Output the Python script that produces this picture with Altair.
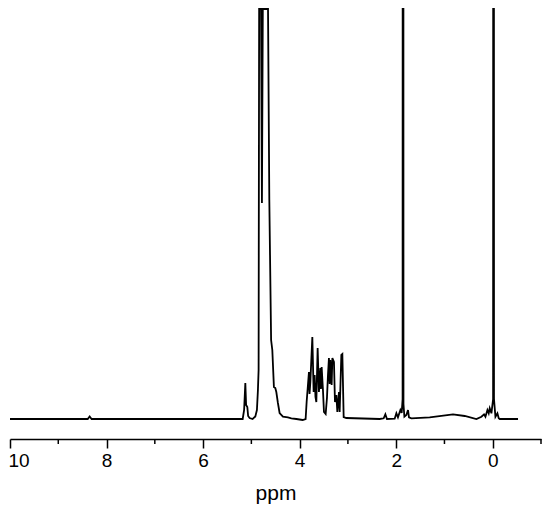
import altair as alt
import pandas as pd

# Chemical shift (ppm) and intensity (arbitrary units, baseline = 0)
ppm = [10.0, 8.39, 8.35, 8.31, 5.24, 5.18, 5.15, 5.125, 5.109, 5.084, 5.067, 5.036,
       4.974, 4.918, 4.885, 4.864, 4.850, 4.839, 4.80, 4.781, 4.763, 4.655, 4.628,
       4.591, 4.566, 4.533, 4.504, 4.483, 4.450, 4.415, 4.346, 4.243, 4.172, 4.068,
       3.938, 3.876, 3.855, 3.807, 3.795, 3.778, 3.737, 3.710, 3.689, 3.672, 3.654,
       3.627, 3.600, 3.571, 3.558, 3.544, 3.517, 3.496, 3.461, 3.434, 3.413, 3.393,
       3.378, 3.364, 3.337, 3.322, 3.289, 3.268, 3.239, 3.219, 3.185, 3.171, 3.136,
       3.115, 3.088, 3.032, 2.342, 2.259, 2.224, 2.191, 2.031, 1.996, 1.963, 1.913,
       1.886, 1.867, 1.858, 1.849, 1.830, 1.789, 1.755, 1.735, 1.685, 1.306, 0.823,
       0.580, 0.338, 0.234, 0.180, 0.151, 0.110, 0.083, 0.062, 0.027, -0.008, -0.017,
       -0.026, -0.056, -0.097, -0.124, -0.145, -0.524]
intensity = [0, 0, 2.5, 0, 0, 0, 9, 36, 14, 12, 3, 1,
             0, 2.5, 9, 29, 49, 410, 410, 216, 410, 410, 219,
             79, 69, 32, 31, 27, 16, 6, 2.3, 1.7, 0.7, 0,
             -1, 0, 17, 47, 25, 37, 82, 27, 44, 22, 17,
             71, 27, 51, 30, 52, 29, 7, 5, 21, 44, 61,
             35, 59, 34, 61, 57, 17, 24, 7, 27, 7, 64,
             65, 2, 1, 0, 0.7, 4.7, 0, 0.3, 5.7, 1.7, 9,
             6, 20, 3000, 15, 2.3, 4, 9, 1.7, 0.7, 1.7, 4.7,
             3, 0, 2.3, 4.7, 2.3, 9, 5.7, 10.7, 5.7, 20, 3000,
             20, 2.3, 5.7, 0.7, 0, 0]

major_ticks = [10, 8, 6, 4, 2, 0]
minor_ticks = [9, 7, 5, 3, 1, -1]

spec = pd.DataFrame({"ppm": ppm, "intensity": intensity, "order": list(range(len(ppm)))})
minor_df = pd.DataFrame({"ppm": minor_ticks})

x_scale = alt.Scale(domain=[-1, 10], reverse=True, nice=False, zero=False)
y_scale = alt.Scale(domain=[-20, 411], nice=False, zero=False)

x_axis = alt.Axis(
    values=major_ticks, format="d", title="ppm", grid=False,
    tickSize=9, tickWidth=1.5, tickColor="black",
    domainWidth=1.5, domainColor="black",
    labelFont="Liberation Sans", labelFontSize=19, labelColor="black", labelPadding=3,
    labelFlush=True, labelFlushOffset=2,
    titleFont="Liberation Sans", titleFontSize=21, titleFontWeight="normal",
    titleColor="black", titlePadding=12,
)

line = alt.Chart(spec).mark_line(color="black", strokeWidth=1.8, clip=True).encode(
    x=alt.X("ppm:Q", scale=x_scale, axis=x_axis),
    y=alt.Y("intensity:Q", scale=y_scale, axis=None),
    order="order:Q",
)

minor = alt.Chart(minor_df).mark_rule(color="black", strokeWidth=1.5).encode(
    x=alt.X("ppm:Q", scale=x_scale, axis=x_axis),
    y=alt.value(431),
    y2=alt.value(436),
)

chart = alt.layer(line, minor).properties(
    width=531, height=431,
    padding={"left": 2, "top": 0, "right": 1, "bottom": 70},
    autosize=alt.AutoSizeParams(type="none"),
).configure_view(stroke=None)

chart.save("out.html", embed_options={"renderer": "svg", "actions": False})
